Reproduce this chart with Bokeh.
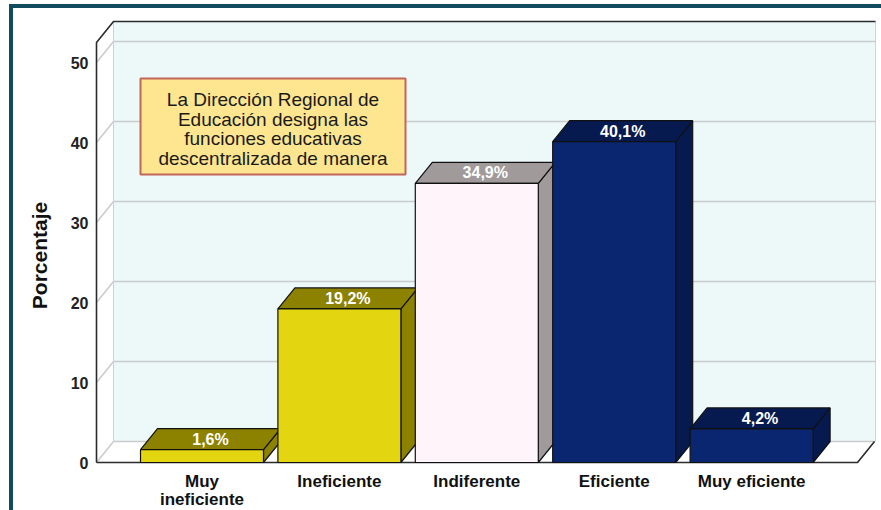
from bokeh.plotting import figure
from bokeh.models import Range1d, FixedTicker
from bokeh.core.properties import value
from bokeh.embed import file_html
from bokeh.resources import INLINE

# ---------------- data ----------------
CATEGORIES = ["Muy ineficiente", "Ineficiente", "Indiferente", "Eficiente", "Muy eficiente"]
LABEL_LINES = [["Muy", "ineficiente"], ["Ineficiente"], ["Indiferente"], ["Eficiente"], ["Muy eficiente"]]
VALUES = [1.6, 19.2, 34.9, 40.1, 4.2]
VALUE_LABELS = ["1,6%", "19,2%", "34,9%", "40,1%", "4,2%"]
Y_TICKS = [0, 10, 20, 30, 40, 50]
Y_LABEL = "Porcentaje"
NOTE_LINES = ["La Dirección Regional de", "Educación designa las",
              "funciones educativas", "descentralizada de manera"]

FRONT_COLORS = ["#e3d611", "#e3d611", "#fff4f9", "#0a2670", "#0a2670"]
SHADE_COLORS = ["#8c8200", "#8c8200", "#a09a9b", "#071a50", "#071a50"]

# ---------------- layout (pixel based) ----------------
W, H = 881, 510
PXC = 137.4      # pixels per category
PXU = 8.0        # pixels per percent
CX0 = 201.5      # x of first category centre
Y0 = 462         # y of value 0 (front)
FRAME_L = 92
TEAL = "#124a5e"

def xd(px):
    return (px - CX0) / PXC

def yd(py):
    return (Y0 - py) / PXU

def wd(px):
    return px / PXC

def hd(px):
    return px / PXU

FONT = "Liberation Sans"
AX = xd(96)          # front y-axis line
DX = wd(17)          # depth offset x
DY = hd(21)          # depth offset y
YTOP = yd(42)        # top of front axis
WALL_R = xd(875)
FLOOR_R = xd(857)
BW = wd(123)

p = figure(width=W, height=H,
           x_range=Range1d(xd(FRAME_L), xd(W)),
           y_range=Range1d(yd(H), yd(0)),
           output_backend="svg", toolbar_location=None,
           x_axis_location=None,
           min_border_left=FRAME_L, min_border_right=0,
           min_border_top=0, min_border_bottom=0)
p.outline_line_color = None
p.background_fill_color = None
p.border_fill_color = None
for g in p.grid:
    g.visible = False
# outer frame stripes (page background behind the transparent canvas)
p.styles = {
    "background-color": "white",
    "background-image": f"linear-gradient({TEAL}, {TEAL}), linear-gradient({TEAL}, {TEAL})",
    "background-size": "4px 100%, 100% 4px",
    "background-position": "9px 4px, 9px 4px",
    "background-repeat": "no-repeat",
}

ax = p.yaxis[0]
ax.ticker = FixedTicker(ticks=Y_TICKS)
ax.axis_line_color = None
ax.major_tick_line_color = None
ax.minor_tick_line_color = None
ax.major_tick_out = 0
ax.minor_tick_out = 0
ax.major_label_standoff = 4
ax.major_label_text_font = FONT
ax.major_label_text_font_style = "bold"
ax.major_label_text_font_size = "16px"
ax.major_label_text_color = "#222222"
ax.axis_label = Y_LABEL
ax.axis_label_text_font = FONT
ax.axis_label_text_font_style = "bold"
ax.axis_label_text_font_size = "21px"
ax.axis_label_text_color = "#111111"
ax.axis_label_standoff = 17

# ---------------- 3D box ----------------
p.quad(left=[AX + DX], right=[WALL_R], bottom=[DY], top=[YTOP + DY],
       fill_color="#ecf9f8", line_color=None)
p.patch([AX, AX, AX + DX, AX + DX], [0, YTOP, YTOP + DY, DY],
        fill_color="white", line_color=None)
p.patch([AX, FLOOR_R, FLOOR_R + DX, AX + DX], [0, 0, DY, DY],
        fill_color="white", line_color=None)

grid_x0 = [AX + DX] * len(Y_TICKS)
grid_y = [t + DY for t in Y_TICKS]
p.segment(x0=grid_x0, y0=grid_y, x1=[WALL_R] * len(Y_TICKS), y1=grid_y,
          line_color="#c9cccc", line_width=1.5)
p.segment(x0=[AX] * len(Y_TICKS), y0=Y_TICKS, x1=grid_x0, y1=grid_y,
          line_color="#c9cccc", line_width=1.5)
p.segment(x0=[AX + DX, WALL_R], y0=[DY, DY], x1=[AX + DX, WALL_R], y1=[YTOP + DY, YTOP + DY],
          line_color="#c9d3d3", line_width=1)

p.multi_line(xs=[[AX, AX, AX + DX, WALL_R], [AX, FLOOR_R, FLOOR_R + DX]],
             ys=[[0, YTOP, YTOP + DY, YTOP + DY], [0, 0, DY]],
             line_color="#2b2b2b", line_width=1.6)

# ---------------- bars ----------------
for i, v in enumerate(VALUES):
    l, r = i - BW / 2, i + BW / 2
    p.patch([r, r + DX, r + DX, r], [0, DY, v + DY, v],
            fill_color=SHADE_COLORS[i], line_color="#111111", line_width=1.2)
    p.patch([l, r, r + DX, l + DX], [v, v, v + DY, v + DY],
            fill_color=SHADE_COLORS[i], line_color="#111111", line_width=1.2)
    p.quad(left=[l], right=[r], bottom=[0], top=[v],
           fill_color=FRONT_COLORS[i], line_color="#111111", line_width=1.2)

p.text(x=[i + DX / 2 for i in range(len(VALUES))],
       y=[v + DY / 2 for v in VALUES],
       text=VALUE_LABELS, text_align="center", text_baseline="middle",
       text_color="white", text_font=value(FONT), text_font_style="bold",
       text_font_size="16px")

# category labels
for k in range(2):
    xs, ys, ts = [], [], []
    for i, lines in enumerate(LABEL_LINES):
        if k < len(lines):
            xs.append(i)
            ys.append(yd(481 + 17.5 * k))
            ts.append(lines[k])
    p.text(x=xs, y=ys, text=ts, text_align="center", text_baseline="middle",
           text_color="#111111", text_font=value(FONT), text_font_style="bold",
           text_font_size="17px")

# ---------------- note box ----------------
p.quad(left=[xd(140)], right=[xd(405)], top=[yd(78)], bottom=[yd(174)],
       fill_color="#fde68f", line_color="#c4655a", line_width=2)
p.text(x=[xd(272.5)] * len(NOTE_LINES),
       y=[yd(99 + 19.5 * k) for k in range(len(NOTE_LINES))],
       text=NOTE_LINES, text_align="center", text_baseline="middle",
       text_color="#1a1a1a", text_font=value(FONT), text_font_size="19px")

open("out.html", "w").write(file_html(p, INLINE))
